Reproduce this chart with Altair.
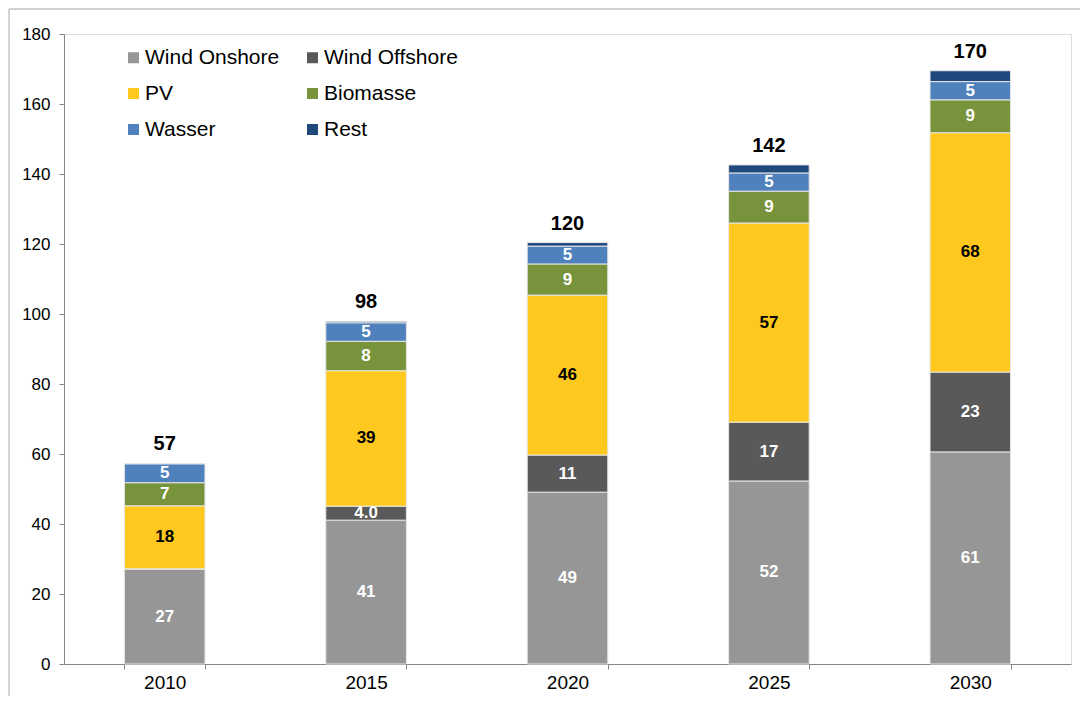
import altair as alt
import pandas as pd

years = ["2010", "2015", "2020", "2025", "2030"]
series = ["Wind Onshore", "Wind Offshore", "PV", "Biomasse", "Wasser", "Rest"]
colors = ["#969696", "#595959", "#FFC81F", "#77933C", "#4F81BD", "#1F497D"]
label_colors = ["white", "white", "black", "white", "white", "white"]
# legend is laid out column by column, so list entries in that order
legend_order = ["Wind Onshore", "PV", "Wasser", "Wind Offshore", "Biomasse", "Rest"]

wind_onshore = [27.1, 41.1, 49.1, 52.3, 60.6]
wind_offshore = [0.1, 4.0, 10.6, 16.8, 22.8]
pv = [18.0, 38.7, 45.7, 56.9, 68.4]
biomasse = [6.6, 8.4, 8.9, 9.1, 9.4]
wasser = [5.4, 5.3, 5.1, 5.2, 5.2]
rest = [0.1, 0.4, 1.0, 2.3, 3.1]

lbl_onshore = ["27", "41", "49", "52", "61"]
lbl_offshore = ["", "4.0", "11", "17", "23"]
lbl_pv = ["18", "39", "46", "57", "68"]
lbl_biomasse = ["7", "8", "9", "9", "9"]
lbl_wasser = ["5", "5", "5", "5", "5"]
lbl_rest = ["", "", "", "", ""]
lbl_totals = ["57", "98", "120", "142", "170"]

vals = [wind_onshore, wind_offshore, pv, biomasse, wasser, rest]
lbls = [lbl_onshore, lbl_offshore, lbl_pv, lbl_biomasse, lbl_wasser, lbl_rest]

rows = []
for si, s in enumerate(series):
    for yi, y in enumerate(years):
        rows.append({"year": y, "series": s, "value": vals[si][yi], "order": si,
                     "label": lbls[si][yi], "lcolor": label_colors[si]})
df = pd.DataFrame(rows)

tot = pd.DataFrame({"year": years,
                    "total": [sum(v[i] for v in vals) for i in range(len(years))],
                    "label": lbl_totals})

color_map = dict(zip(series, colors))
legend_colors = [color_map[s] for s in legend_order]

FONT = "Liberation Sans"
W, H = 1007, 630

xenc = alt.X("year:N", title=None, sort=years,
             scale=alt.Scale(paddingInner=0.6, paddingOuter=0.3),
             axis=alt.Axis(labelAngle=0, labelFontSize=19, labelColor="black",
                           labelPadding=4, tickBand="extent", tickSize=5,
                           domainColor="#868686", tickColor="#868686", labelFont=FONT))

base = alt.Chart(df).transform_stack(
    stack="value", groupby=["year"], as_=["y0", "y1"],
    sort=[alt.SortField("order", order="ascending")]
).transform_calculate(mid="(datum.y0 + datum.y1) / 2")

yscale = alt.Scale(domain=[0, 180])

bars = base.mark_bar(stroke="#e6e6e6", strokeWidth=1).encode(
    x=xenc,
    y=alt.Y("y0:Q", scale=yscale, title=None,
            axis=alt.Axis(values=list(range(0, 181, 20)), grid=False, labelFontSize=17,
                          labelColor="black", labelPadding=9, tickSize=5,
                          domainColor="#868686", tickColor="#868686", labelFont=FONT)),
    y2="y1:Q",
    color=alt.Color("series:N", sort=legend_order,
                    scale=alt.Scale(domain=legend_order, range=legend_colors),
                    legend=alt.Legend(title=None, orient="none", legendX=59, legendY=13,
                                      columns=2, columnPadding=22, rowPadding=14,
                                      symbolType="square", symbolSize=121,
                                      symbolStrokeWidth=0, labelFontSize=21,
                                      labelFont=FONT, labelColor="black",
                                      symbolOffset=0, labelOffset=1, padding=0)),
)

seg_text = base.mark_text(font=FONT, fontSize=17, fontWeight="bold", baseline="middle").encode(
    x=alt.X("year:N", sort=years),
    y=alt.Y("mid:Q", scale=yscale),
    text="label:N",
    color=alt.Color("lcolor:N", scale=None),
)

tot_text = alt.Chart(tot).mark_text(font=FONT, fontSize=20, fontWeight="bold",
                                    baseline="alphabetic", dy=-13, color="black").encode(
    x=alt.X("year:N", sort=years),
    y=alt.Y("total:Q", scale=yscale),
    text="label:N",
)

dummy = pd.DataFrame({"a": [0]})
border_v = alt.Chart(dummy).mark_rule(color="#a6a6a6", strokeWidth=1).encode(
    x=alt.value(-55), y=alt.value(-25), y2=alt.value(H + 100))
border_h = alt.Chart(dummy).mark_rule(color="#a6a6a6", strokeWidth=1).encode(
    x=alt.value(-55), x2=alt.value(W + 100), y=alt.value(-25))

chart = alt.layer(border_v, border_h, bars, seg_text, tot_text).properties(
    width=W, height=H,
    autosize=alt.AutoSizeParams(type="none"),
    padding={"left": 56, "top": 26, "right": 9, "bottom": 32},
).configure_view(stroke=None).configure(font=FONT)

chart.save("out.html", embed_options={"renderer": "svg", "actions": False})
